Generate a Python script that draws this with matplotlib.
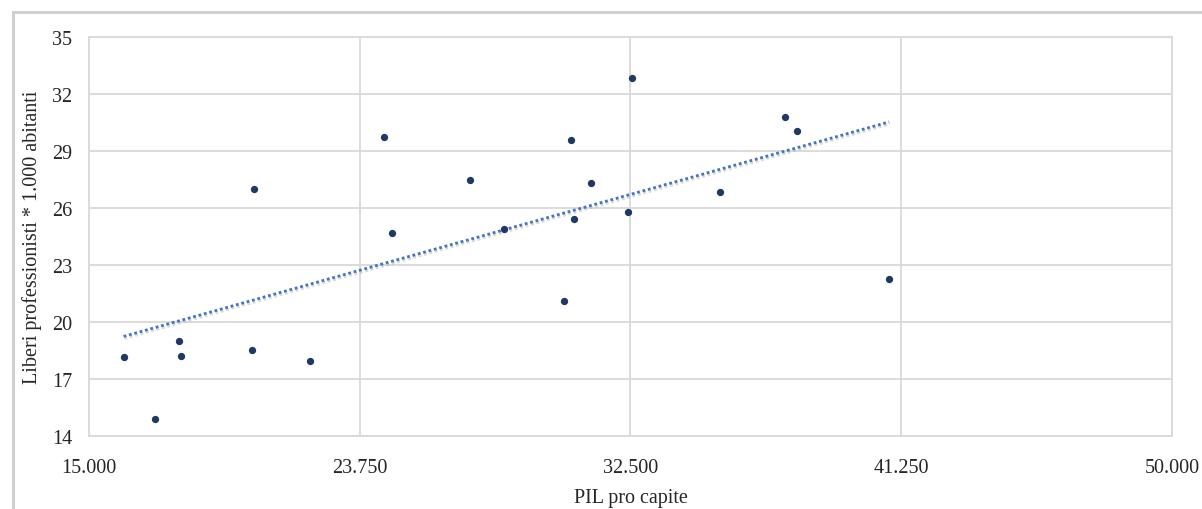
import matplotlib
matplotlib.use('Agg')
import matplotlib.pyplot as plt
import matplotlib.patheffects as pe
from matplotlib.patches import Rectangle
from matplotlib.ticker import FuncFormatter
import numpy as np

# PIL pro capite (euro) vs liberi professionisti ogni 1.000 abitanti
pil = [16120, 17150, 17900, 17990, 20270, 20320, 22150, 24520, 24810,
       27330, 28410, 30340, 30590, 30680, 31230, 32420, 32560, 35390,
       37500, 37880, 40860]
liberi = [18.14, 14.89, 19.02, 18.21, 18.54, 27.0, 17.96, 29.75, 24.68,
          27.49, 24.91, 21.12, 29.6, 25.4, 27.33, 25.81, 32.83, 26.86,
          30.81, 30.07, 22.25]

x_ticks = [15000, 23750, 32500, 41250, 50000]
y_ticks = [14, 17, 20, 23, 26, 29, 32, 35]

grid_col = '#d9d9d9'
serif = ['Liberation Serif', 'DejaVu Serif']

fig = plt.figure(figsize=(12.02, 5.10), dpi=100)
ax = fig.add_axes([0.074, 0.143, 0.901, 0.7825])

# chart-area border (cut off on right/bottom as in the original)
fig.patches.append(Rectangle((13/1202, -0.1), 1.2, 1 - 13/510 + 0.1,
                             transform=fig.transFigure, fill=False,
                             edgecolor='#d0d0d0', linewidth=2.2))

ax.scatter(pil, liberi, s=18, color='#1f3864', zorder=3)

# linear trend line
k, q = np.polyfit(pil, liberi, 1)
xs = np.array([min(pil), max(pil)])
ax.plot(xs, k * xs + q, linestyle=(0, (1, 1)), color='#4472c4', linewidth=2.0,
        zorder=2,
        path_effects=[pe.SimpleLineShadow(offset=(0.6, -1.5), shadow_color='#aaaaaa', alpha=0.45),
                      pe.Normal()])

ax.set_xlim(15000, 50000)
ax.set_ylim(14, 35)
ax.set_xticks(x_ticks)
ax.set_yticks(y_ticks)
ax.xaxis.set_major_formatter(FuncFormatter(lambda v, p: '{:,.0f}'.format(v).replace(',', '.')))
ax.grid(True, color=grid_col, linewidth=1.3)
ax.set_axisbelow(True)
for s in ax.spines.values():
    s.set_color(grid_col)
    s.set_linewidth(1.3)
ax.tick_params(length=0, labelsize=14.5, colors='#262626')
ax.tick_params(axis='x', pad=16)
ax.tick_params(axis='y', pad=12)
for lab in ax.get_xticklabels() + ax.get_yticklabels():
    lab.set_family(serif)

ax.set_xlabel('PIL pro capite', fontsize=14.5, family=serif, color='#262626', labelpad=8)
ax.set_ylabel('Liberi professionisti * 1.000 abitanti', fontsize=14.5, family=serif,
              color='#262626', labelpad=7)

fig.savefig('out.png', dpi=100)
